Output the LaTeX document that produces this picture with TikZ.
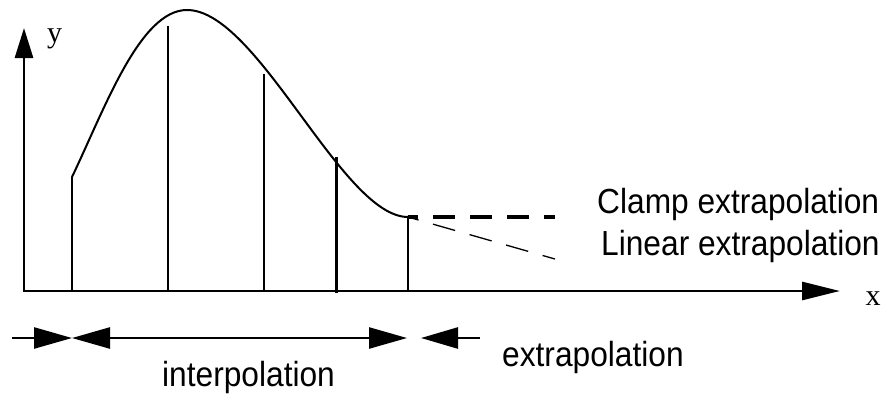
\documentclass[tikz,border=0pt]{standalone}
\usepackage{graphicx}
\usepackage{fontspec}
\setmainfont{Liberation Sans}
\newfontfamily\axisfont{Liberation Serif}
\usetikzlibrary{arrows.meta}
\newcommand{\tall}[1]{\scalebox{1}[1.1]{#1}}
\tikzset{
  axis/.style={line width=2.8pt, black},
  knotline/.style={line width=2pt, black},
  curveline/.style={line width=2pt, black, line cap=round},
  clampline/.style={line width=3.5pt, black, dash pattern=on 22pt off 15pt, dash phase=12pt},
  linline/.style={line width=1.3pt, black, dash pattern=on 23pt off 15pt, dash phase=12pt},
  rangeline/.style={line width=2.5pt, black},
  label/.style={inner sep=0pt, font=\fontsize{31.7}{36}\selectfont},
  axislabel/.style={inner sep=0pt, font=\axisfont\fontsize{30}{34}\selectfont},
}
\begin{document}
\begin{tikzpicture}[x=1pt,y=-1pt]
\useasboundingbox (0,0) rectangle (882,394);
% axes
\coordinate (O) at (24,291);
\coordinate (ytip) at (24,28);
\coordinate (xtip) at (840,291);
\draw[axis, -{Triangle[length=30pt,width=18pt]}] (O) -- (ytip);
\draw[axis, -{Triangle[length=38pt,width=18pt]}] ([xshift=-1.4pt]O) -- (xtip);
\node[axislabel] (ylab) at (54.5,39) {y};
\node[axislabel] (xlab) at (873,299) {x};
% knots
\coordinate (k1) at (72,177);
\coordinate (k2) at (168,26);
\coordinate (k3) at (264,74);
\coordinate (k4) at (336,157);
\coordinate (k5) at (408,217);
\coordinate (b1) at (72,291);
\coordinate (b2) at (168,291);
\coordinate (b3) at (264,291);
\coordinate (b4) at (336,293);
\coordinate (b5) at (408,291);
\draw[knotline] (b1) -- (k1);
\draw[knotline] (b2) -- (k2);
\draw[knotline] (b3) -- (k3);
\draw[knotline, line width=3pt] (b4) -- (k4);
\draw[knotline] (b5) -- (k5);
% curve
\coordinate (peak) at (187,10);
\draw[curveline] (k1) .. controls (105,108) and (140,10) .. (peak)
  .. controls (258,10) and (342,217) .. (k5);
% extrapolation
\coordinate (clampend) at (555,217);
\coordinate (linend) at (555,259);
\draw[clampline] (k5) -- (clampend);
\draw[linline] (k5) -- (linend);
\node[label, anchor=base west] (clamp) at (597,213) {\tall{Clamp extrapolation}};
\node[label, anchor=base west] (linear) at (601,255) {\tall{Linear extrapolation}};
% ranges
\coordinate (m0) at (12,338);
\coordinate (m1) at (72,338);
\coordinate (m2) at (407,338);
\coordinate (m3) at (421,338);
\coordinate (m4) at (480,338);
\draw[rangeline, -{Triangle[length=38pt,width=21pt]}] (m0) -- (m1);
\draw[rangeline, {Triangle[length=38pt,width=21pt]}-{Triangle[length=38pt,width=21pt]}] (m1) -- (m2);
\draw[rangeline, -{Triangle[length=37pt,width=21pt]}] (m4) -- (m3);
\node[label, anchor=base west] (interp) at (162,386) {\tall{interpolation}};
\node[label, anchor=base west] (extrap) at (502,366) {\tall{extrapolation}};
\end{tikzpicture}
\end{document}
